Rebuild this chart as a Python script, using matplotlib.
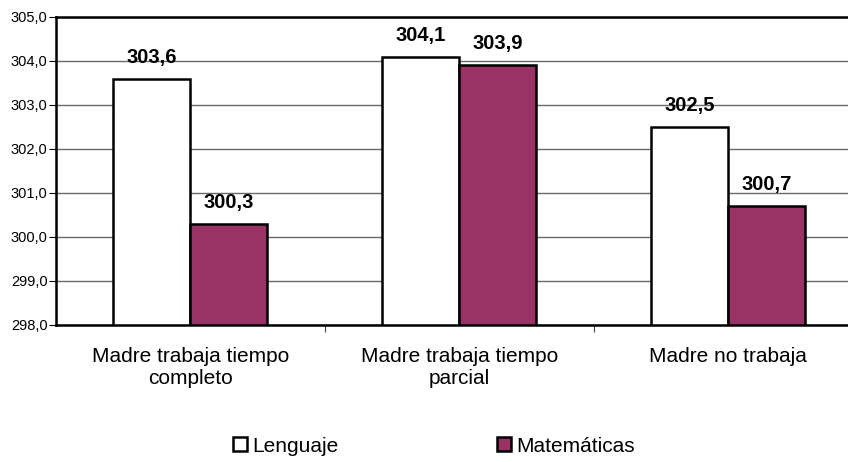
import matplotlib
matplotlib.use("Agg")
import matplotlib.pyplot as plt
import numpy as np
from matplotlib.patches import Patch

plt.rcParams['font.family'] = ['Liberation Sans', 'DejaVu Sans']

categories = ["Madre trabaja tiempo\ncompleto", "Madre trabaja tiempo\nparcial", "Madre no trabaja"]
series_names = ["Lenguaje", "Matemáticas"]
lenguaje = [303.6, 304.1, 302.5]
matematicas = [300.3, 303.9, 300.7]
yticks = [298, 299, 300, 301, 302, 303, 304, 305]

colors = ["#FFFFFF", "#993366"]

fig = plt.figure(figsize=(8.48, 4.62), dpi=100)
ax = fig.add_axes([56/848, 1-325/462, 806.5/848, 308/462])

x = np.arange(len(categories))
w = 77/269
for i, (vals, col) in enumerate(zip([lenguaje, matematicas], colors)):
    pos = x + (i - 0.5) * w
    ax.bar(pos, [v - 298 for v in vals], width=w, bottom=298, color=col,
           edgecolor="black", linewidth=1.8, zorder=3)
    for p, v in zip(pos, vals):
        ax.annotate(f"{v:.1f}".replace(".", ","), (p, v), xytext=(0, 15.5),
                    textcoords="offset points", ha="center", va="center",
                    fontsize=14.5, fontweight="bold")

ax.set_xlim(-0.5, 2.5)
ax.set_ylim(298, 305)
ax.set_yticks(yticks)
ax.set_yticklabels([f"{t:.1f}".replace(".", ",") for t in yticks], fontsize=10.5)
ax.yaxis.grid(True, color="#6a6a6a", linewidth=1.0, zorder=0)
ax.set_axisbelow(True)

ax.set_xticks([0.5, 1.5, 2.5], minor=False)
ax.set_xticklabels([])
ax.set_xticks(x, minor=True)
ax.set_xticklabels(categories, minor=True, fontsize=15, linespacing=1.2)
ax.tick_params(axis="x", which="minor", length=0, pad=16)
ax.tick_params(axis="x", which="major", length=5, width=0.8, color="#444444")
ax.tick_params(axis="y", length=5, width=0.8, pad=1)

for s in ax.spines.values():
    s.set_linewidth(1.8)
    s.set_color("black")

handles = [Patch(facecolor=c, edgecolor="black", linewidth=1.8) for c in colors]
fig.legend(handles, series_names, loc="center", bbox_to_anchor=(0.512, 1 - 446/462),
           ncol=2, frameon=False, fontsize=15, columnspacing=7.6,
           handlelength=0.67, handleheight=0.67, handletextpad=0.25,
           borderpad=0, borderaxespad=0)

fig.savefig("out.png", dpi=100)
